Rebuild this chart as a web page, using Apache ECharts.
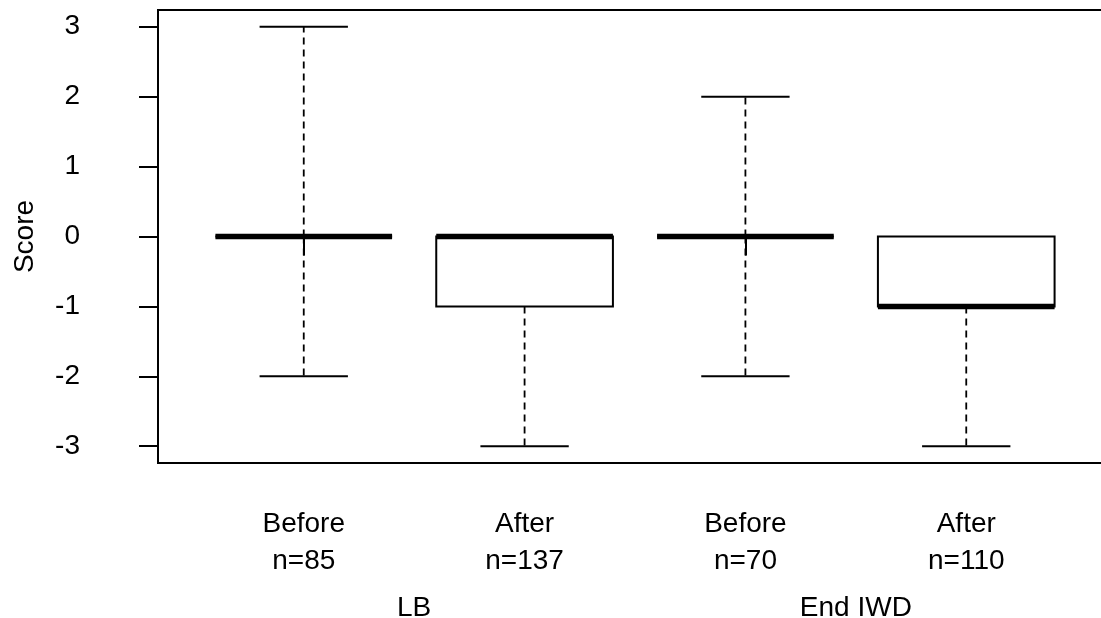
<!DOCTYPE html>
<html>
<head>
<meta charset="utf-8">
<script src="https://cdn.jsdelivr.net/npm/echarts@6/dist/echarts.min.js"></script>
<style>html,body{margin:0;padding:0;background:#fff}#c{width:1101px;height:618px}</style>
</head>
<body>
<div id="c"></div>
<script>
const conditions = ['Before', 'After', 'Before', 'After'];
const counts = [85, 137, 70, 110];
const groups = ['LB', 'End IWD'];
const groupCenters = [1.5, 3.5];
const positions = [1, 2, 3, 4];
const mins = [-2, -3, -2, -3];
const q1s = [0, -1, 0, -1];
const medians = [0, 0, 0, -1];
const q3s = [0, 0, 0, 0];
const maxs = [3, 0, 2, 0];
const yTicks = [-3, -2, -1, 0, 1, 2, 3];

const FONT = 'Liberation Sans, Arial, sans-serif';
const FS = 28;
const data = positions.map((p, i) => [p, mins[i], q1s[i], medians[i], q3s[i], maxs[i]]);

function renderItem(params, api) {
  const x = api.value(0);
  const vmin = api.value(1), vq1 = api.value(2), vmed = api.value(3), vq3 = api.value(4), vmax = api.value(5);
  const boxW = api.size([0.8, 0])[0];
  const capW = boxW / 2;
  const c = api.coord([x, 0])[0];
  const y = v => api.coord([x, v])[1];
  const children = [];
  const dash = { stroke: '#000', lineWidth: 1.8, lineDash: [7, 5] };
  const solid = { stroke: '#000', lineWidth: 2 };
  if (vmax > vq3) {
    children.push({ type: 'line', shape: { x1: c, y1: y(vq3), x2: c, y2: y(vmax) }, style: dash });
    children.push({ type: 'line', shape: { x1: c - capW / 2, y1: y(vmax), x2: c + capW / 2, y2: y(vmax) }, style: solid });
  }
  if (vmin < vq1) {
    children.push({ type: 'line', shape: { x1: c, y1: y(vq1), x2: c, y2: y(vmin) }, style: dash });
    children.push({ type: 'line', shape: { x1: c - capW / 2, y1: y(vmin), x2: c + capW / 2, y2: y(vmin) }, style: solid });
  }
  children.push({ type: 'rect', shape: { x: c - boxW / 2, y: y(vq3), width: boxW, height: y(vq1) - y(vq3) },
    style: { fill: '#fff', stroke: '#000', lineWidth: 2 } });
  children.push({ type: 'line', shape: { x1: c - boxW / 2, y1: y(vmed), x2: c + boxW / 2, y2: y(vmed) },
    style: { stroke: '#000', lineWidth: 5.5 } });
  return { type: 'group', children };
}

const chart = echarts.init(document.getElementById('c'), null, { renderer: 'canvas' });
chart.setOption({
  animation: false,
  backgroundColor: '#fff',
  grid: { left: 158, top: 10, right: -11, bottom: 155, show: true, borderColor: '#000', borderWidth: 2,
    backgroundColor: 'transparent', outerBoundsMode: 'none', containLabel: false },
  xAxis: [
    {
      type: 'value', min: 0.34, max: 4.66,
      axisLine: { show: false },
      splitLine: { show: false },
      axisTick: { show: true, customValues: positions, length: 19, lineStyle: { color: '#000', width: 2 } },
      axisLabel: {
        customValues: positions, margin: 43, color: '#000', fontFamily: FONT, fontSize: FS, lineHeight: 37,
        formatter: v => { const i = positions.indexOf(Math.round(v)); return conditions[i] + '\nn=' + counts[i]; }
      }
    },
    {
      type: 'value', min: 0.34, max: 4.66, position: 'bottom',
      axisLine: { show: false }, splitLine: { show: false }, axisTick: { show: false },
      axisLabel: {
        customValues: groupCenters, margin: 131, color: '#000', fontFamily: FONT, fontSize: FS,
        formatter: v => groups[groupCenters.indexOf(v)]
      }
    }
  ],
  yAxis: {
    type: 'value', min: -3.24, max: 3.24,
    name: 'Score', nameLocation: 'middle', nameGap: 119,
    nameTextStyle: { color: '#000', fontFamily: FONT, fontSize: FS },
    axisLine: { show: false },
    splitLine: { show: false },
    axisTick: { show: true, customValues: yTicks, length: 19, lineStyle: { color: '#000', width: 2 } },
    axisLabel: { customValues: yTicks, margin: 78, color: '#000', fontFamily: FONT, fontSize: FS }
  },
  series: [{
    type: 'custom',
    xAxisIndex: 0,
    renderItem: renderItem,
    encode: { x: 0, y: [1, 2, 3, 4, 5] },
    data: data,
    clip: false
  }]
});
</script>
</body>
</html>
